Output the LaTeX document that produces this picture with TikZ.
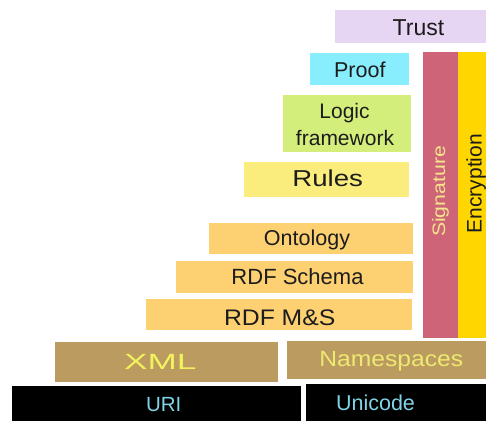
\documentclass[tikz,border=0pt]{standalone}
\usepackage{fontspec}
\setmainfont{Liberation Sans}
\definecolor{trustc}{HTML}{E6D6F4}
\definecolor{proofc}{HTML}{88EEFE}
\definecolor{logicc}{HTML}{D4EE7C}
\definecolor{rulesc}{HTML}{FBEC7E}
\definecolor{ontoc}{HTML}{FDD072}
\definecolor{sigc}{HTML}{CD6478}
\definecolor{encc}{HTML}{FFD600}
\definecolor{xmlc}{HTML}{BB9B5F}
\definecolor{darktxt}{HTML}{1C1C1C}
\definecolor{sigtxt}{HTML}{F4E48C}
\definecolor{xmltxt}{HTML}{F2F25C}
\definecolor{nstxt}{HTML}{EDEA72}
\definecolor{uritxt}{HTML}{80D4E6}
\tikzset{
  layer/.style={anchor=north west, inner sep=0pt, outer sep=0pt, draw=none},
  lbl/.style={anchor=base, inner sep=0pt, text=darktxt},
}
\newcommand{\fs}[1]{\fontsize{#1}{#1}\selectfont}
\begin{document}
\begin{tikzpicture}[x=1pt,y=-1pt]
\useasboundingbox (0,0) rectangle (486,420);
\clip (0,0) rectangle (486,420);
% layers
\node[layer, fill=trustc, minimum width=160pt, minimum height=33pt] (trust) at (335,10) {};
\node[layer, fill=proofc, minimum width=99pt, minimum height=32pt] (proof) at (310,53) {};
\node[layer, fill=logicc, minimum width=128pt, minimum height=57pt] (logic) at (283,95) {};
\node[layer, fill=rulesc, minimum width=165pt, minimum height=35pt] (rules) at (244,162) {};
\node[layer, fill=ontoc, minimum width=204pt, minimum height=31pt] (onto) at (209,223) {};
\node[layer, fill=ontoc, minimum width=237pt, minimum height=32pt] (rdfs) at (176,261) {};
\node[layer, fill=ontoc, minimum width=266pt, minimum height=31pt] (rdfms) at (146,299) {};
\node[layer, fill=sigc, minimum width=35pt, minimum height=286pt] (sig) at (423,52) {};
\node[layer, fill=encc, minimum width=40pt, minimum height=286pt] (enc) at (458,52) {};
\node[layer, fill=xmlc, minimum width=223pt, minimum height=40pt] (xml) at (55,342) {};
\node[layer, fill=xmlc, minimum width=210pt, minimum height=38pt] (ns) at (287,341) {};
\node[layer, fill=black, minimum width=289pt, minimum height=40pt] (uri) at (12,386) {};
\node[layer, fill=black, minimum width=190pt, minimum height=40pt] (uc) at (306,384) {};
% labels
\node[lbl] (trustT) at (418.5,35) {\fs{23}Trust};
\node[lbl] (proofT) at (359.8,77.3) {\fs{21.5}Proof};
\node[lbl] (logicT1) at (344.5,118.3) {\fs{21}Logic};
\node[lbl] (logicT2) at (345,145) {\fs{21}framework};
\node[lbl] (rulesT) at (327.7,186.7) {\fs{23}\scalebox{1.2}[1]{Rules}};
\node[lbl] (ontoT) at (307,245.7) {\fs{21.5}Ontology};
\node[lbl] (rdfsT) at (297.5,284) {\fs{22}RDF Schema};
\node[lbl] (rdfmsT) at (279.7,325) {\fs{22.5}\scalebox{1.1}[1]{RDF M\&S}};
\node[lbl, text=sigtxt, rotate=90] (sigT) at (445,191.5) {\fs{18}\scalebox{1.18}[1]{Signature}};
\node[lbl, rotate=90] (encT) at (481.5,183.7) {\fs{21}Encryption};
\node[lbl, text=xmltxt] (xmlT) at (160.3,369.7) {\fs{22}\scalebox{1.6}[1]{XML}};
\node[lbl, text=nstxt] (nsT) at (391.3,366) {\fs{22}\scalebox{1.12}[1]{Namespaces}};
\node[lbl, text=uritxt] (uriT) at (163.7,411.7) {\fs{20.5}URI};
\node[lbl, text=uritxt] (ucT) at (375.5,410) {\fs{21.5}Unicode};
\end{tikzpicture}
\end{document}
